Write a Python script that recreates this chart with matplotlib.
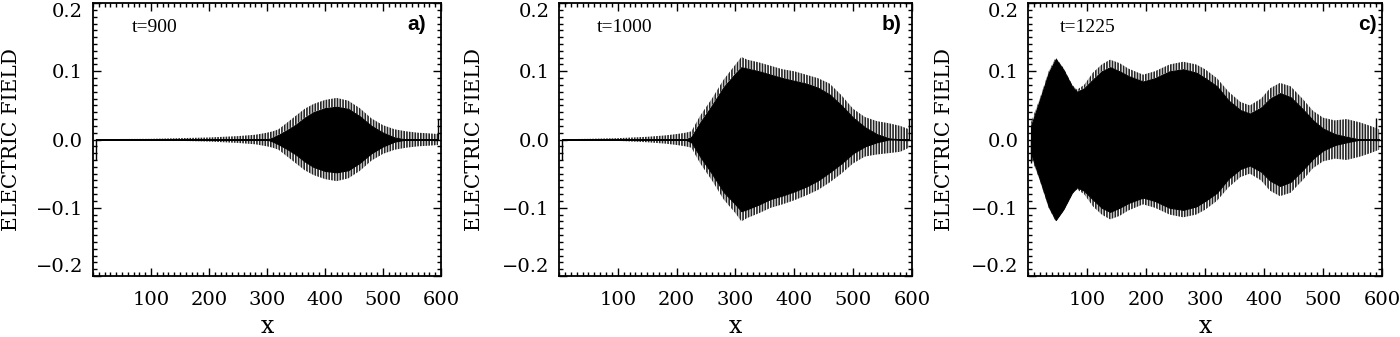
import numpy as np
import matplotlib
matplotlib.use('Agg')
import matplotlib.pyplot as plt
from matplotlib.ticker import MultipleLocator

# Envelopes of the electric field oscillation
# top = tip of the oscillation, core = fully black part

# a) t=900
x_a = [5, 50, 100, 150, 200, 250, 280, 300, 310, 320, 335, 350, 365, 380, 400,
       420, 440, 460, 480, 500, 520, 540, 560, 580, 595]
top_a = [0.0005, 0.0008, 0.001, 0.002, 0.003, 0.005, 0.007, 0.01, 0.012, 0.015,
         0.025, 0.035, 0.045, 0.052, 0.058, 0.061, 0.057, 0.046, 0.031, 0.021,
         0.015, 0.012, 0.01, 0.009, 0.008]
core_a = [0, 0, 0, 0, 0, 0, 0, 0, 0.003, 0.007, 0.014, 0.022, 0.032, 0.04, 0.046,
          0.048, 0.045, 0.034, 0.02, 0.01, 0.003, 0, 0, 0, 0]

# b) t=1000 (lower side is a bit smaller on the right)
x_b = [5, 50, 100, 150, 180, 200, 215, 225, 240, 260, 280, 300, 310, 320, 340,
       360, 380, 400, 420, 440, 460, 480, 500, 520, 540, 560, 580, 595]
top_b = [0.0005, 0.001, 0.002, 0.004, 0.006, 0.008, 0.01, 0.012, 0.035, 0.06,
         0.088, 0.11, 0.121, 0.117, 0.113, 0.108, 0.103, 0.1, 0.095, 0.09, 0.082,
         0.065, 0.045, 0.033, 0.027, 0.024, 0.02, 0.015]
core_b = [0, 0, 0, 0, 0, 0, 0, 0.004, 0.025, 0.05, 0.077, 0.097, 0.106, 0.104,
          0.1, 0.095, 0.09, 0.086, 0.082, 0.076, 0.066, 0.05, 0.032, 0.018,
          0.008, 0.002, 0, 0]
bot_b = [0.0005, 0.001, 0.002, 0.004, 0.006, 0.008, 0.01, 0.012, 0.035, 0.06,
         0.088, 0.108, 0.12, 0.115, 0.108, 0.1, 0.095, 0.089, 0.082, 0.074,
         0.063, 0.05, 0.035, 0.025, 0.022, 0.02, 0.018, 0.012]
botcore_b = [0, 0, 0, 0, 0, 0, 0, 0.004, 0.025, 0.05, 0.077, 0.095, 0.105,
             0.102, 0.095, 0.087, 0.082, 0.076, 0.069, 0.06, 0.048, 0.035,
             0.02, 0.01, 0.004, 0, 0, 0]

# c) t=1225
x_c = [5, 20, 35, 47, 60, 75, 83, 95, 110, 125, 139, 155, 170, 195, 215, 240,
       263, 285, 300, 320, 340, 360, 376, 395, 410, 427, 445, 465, 483, 500,
       520, 540, 563, 580, 595]
top_c = [0.025, 0.06, 0.1, 0.12, 0.105, 0.08, 0.073, 0.08, 0.098, 0.11, 0.117,
         0.112, 0.104, 0.095, 0.1, 0.11, 0.114, 0.11, 0.103, 0.09, 0.07, 0.055,
         0.05, 0.06, 0.075, 0.083, 0.078, 0.06, 0.042, 0.032, 0.028, 0.03,
         0.025, 0.02, 0.015]
core_c = [0.02, 0.058, 0.098, 0.118, 0.102, 0.077, 0.07, 0.075, 0.088, 0.1,
          0.106, 0.1, 0.093, 0.085, 0.09, 0.1, 0.103, 0.098, 0.09, 0.078, 0.057,
          0.043, 0.038, 0.047, 0.06, 0.068, 0.062, 0.045, 0.028, 0.016, 0.008,
          0.004, 0, 0, 0]

# boundary spikes
spike_x = {'a': [5, 595], 'b': [5, 595], 'c': [5, 590]}
spike_y = {'a': [-0.03, 0.03], 'b': [-0.03, 0.03], 'c': [-0.035, 0.032]}

times = ['t=900', 't=1000', 't=1225']
labels = ['a)', 'b)', 'c)']

plt.rcParams['hatch.linewidth'] = 1.2


def draw(ax, x, top, core, bot=None, botcore=None):
    x = np.array(x)
    top = np.array(top)
    core = np.array(core)
    bot = top if bot is None else np.array(bot)
    botcore = core if botcore is None else np.array(botcore)
    # oscillation tips as vertical stripes
    ax.fill_between(x, core, top, facecolor='none', edgecolor='0.15',
                    hatch='||||||', linewidth=0)
    ax.fill_between(x, -bot, -botcore, facecolor='none', edgecolor='0.15',
                    hatch='||||||', linewidth=0)
    ax.fill_between(x, -botcore, core, facecolor='black', edgecolor='black',
                    linewidth=0.8)


fig = plt.figure(figsize=(14, 3.37), dpi=100)
lefts = [0.0664, 0.3993, 0.7343]
widths = [0.2486, 0.2521, 0.2529]
time_x = [0.112, 0.108, 0.09]
lab_x = [0.957, 0.969, 0.986]
ylab_x = [12, 474, 944]
axes = [fig.add_axes([l, 0.181, w, 0.810]) for l, w in zip(lefts, widths)]

draw(axes[0], x_a, top_a, core_a)
draw(axes[1], x_b, top_b, core_b, bot_b, botcore_b)
draw(axes[2], x_c, top_c, core_c)

for i, (ax, key) in enumerate(zip(axes, ['a', 'b', 'c'])):
    ax.vlines(spike_x[key], 0, spike_y[key], color='black', linewidth=1.0)
    ax.set_xlim(0, 600)
    ax.set_ylim(-0.2, 0.2)
    ax.set_xticks([100, 200, 300, 400, 500, 600])
    ax.set_yticks([-0.2, -0.1, 0.0, 0.1, 0.2])
    ax.set_yticklabels(['\u22120.2', '\u22120.1', '0.0', '0.1', '0.2'])
    ax.xaxis.set_minor_locator(MultipleLocator(10))
    ax.yaxis.set_minor_locator(MultipleLocator(0.01))
    ax.tick_params(which='both', direction='in', top=True, right=True,
                   width=1.0)
    ax.tick_params(which='major', length=6)
    ax.tick_params(which='minor', length=3)
    ax.tick_params(axis='x', pad=11)
    ax.tick_params(axis='y', pad=7)
    for lab in ax.get_xticklabels() + ax.get_yticklabels():
        lab.set_fontfamily('DejaVu Serif')
        lab.set_fontsize(14)
    ylabs = ax.get_yticklabels()
    ylabs[0].set_va('bottom')
    ylabs[-1].set_va('top')
    for sp in ax.spines.values():
        sp.set_linewidth(1.3)
    # axis titles placed in figure pixels
    fig.text(ylab_x[i] / 1400, 1 - 140 / 337, 'ELECTRIC FIELD', rotation=90,
             ha='center', va='center', fontfamily='DejaVu Serif', fontsize=14.5)
    bb = ax.get_position()
    fig.text(bb.x0 + bb.width / 2, 4 / 337, 'x', ha='center', va='baseline',
             fontfamily='DejaVu Serif', fontsize=17)
    ax.text(time_x[i], 0.912, times[i], transform=ax.transAxes,
            fontfamily='Liberation Serif', fontsize=14, va='center', ha='left')
    ax.text(lab_x[i], 0.92, labels[i], transform=ax.transAxes,
            fontfamily='Liberation Sans', fontweight='bold', fontsize=15,
            va='center', ha='right')

fig.savefig('out.png', dpi=100)
